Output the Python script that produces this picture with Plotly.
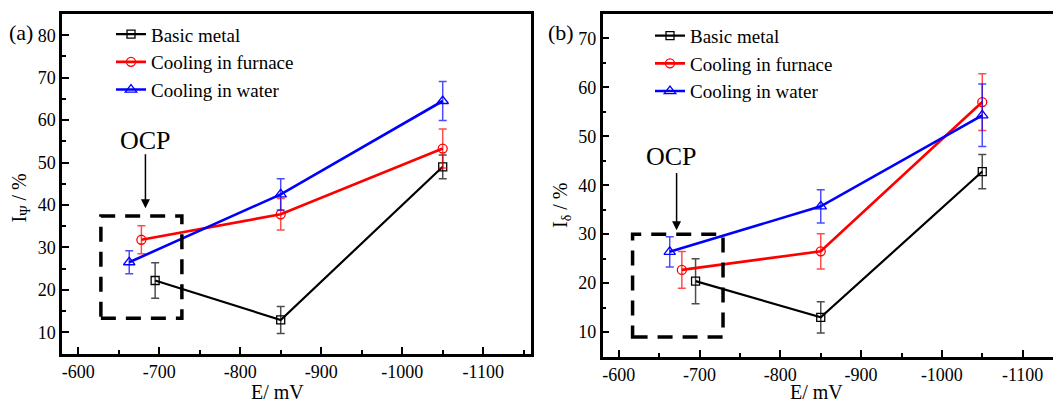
import plotly.graph_objects as go

# ---------------- data ----------------
series_names = ["Basic metal", "Cooling in furnace", "Cooling in water"]
series_colors = ["#000000", "#ff0000", "#0000ff"]
err_colors = ["rgba(0,0,0,0.7)", "rgba(255,0,0,0.7)", "rgba(0,0,255,0.7)"]
series_symbols = ["square-open", "circle-open", "triangle-up-open"]
series_sizes = [8, 9, 10]

E_basic = [-695, -850, -1050]
E_furnace = [-678, -850, -1050]
E_water = [-663, -850, -1050]

# panel (a): I_psi
Ipsi_basic = [22.2, 12.9, 49.0]
Ipsi_basic_err = [4.2, 3.2, 2.8]
Ipsi_furnace = [31.8, 37.8, 53.3]
Ipsi_furnace_err = [3.3, 3.7, 4.6]
Ipsi_water = [26.5, 42.5, 64.5]
Ipsi_water_err = [2.7, 3.7, 4.6]

# panel (b): I_delta
Idelta_basic = [20.4, 13.0, 42.8]
Idelta_basic_err = [4.6, 3.2, 3.5]
Idelta_furnace = [22.7, 26.5, 57.0]
Idelta_furnace_err = [3.75, 3.6, 5.8]
Idelta_water = [26.4, 35.7, 54.3]
Idelta_water_err = [3.1, 3.4, 6.4]

x_ticks = [-600, -700, -800, -900, -1000, -1100]
x_ticklabels = ["-600", "-700", "-800", "-900", "-1000", "-1100"]
y_ticks_a = [10, 20, 30, 40, 50, 60, 70, 80]
y_ticks_b = [10, 20, 30, 40, 50, 60, 70]

# OCP boxes (data coords)
ocp_box_a = dict(x0=-628, x1=-728, y0=13.3, y1=37.4)
ocp_box_b = dict(x0=-617, x1=-729, y0=9.0, y1=30.0)

FONT = "Liberation Serif"
OFF = 8  # page body margin
W, H = 1061 - OFF, 401 - OFF


def px(x):
    return (x - OFF) / W


def py(y):
    return 1 - (y - OFF) / H


fig = go.Figure()

panel_a = [(E_basic, Ipsi_basic, Ipsi_basic_err),
           (E_furnace, Ipsi_furnace, Ipsi_furnace_err),
           (E_water, Ipsi_water, Ipsi_water_err)]
panel_b = [(E_basic, Idelta_basic, Idelta_basic_err),
           (E_furnace, Idelta_furnace, Idelta_furnace_err),
           (E_water, Idelta_water, Idelta_water_err)]

lw = [2.2, 2.6, 2.6]
for panel, xa, ya, lg in [(panel_a, "x", "y", "legend"), (panel_b, "x2", "y2", "legend2")]:
    for i, (xs, ys, es) in enumerate(panel):
        fig.add_trace(go.Scatter(
            x=xs, y=ys, mode="lines+markers", name=series_names[i],
            line=dict(color=series_colors[i], width=lw[i]),
            marker=dict(symbol=series_symbols[i], size=series_sizes[i],
                        color=series_colors[i],
                        line=dict(width=1.3, color=series_colors[i])),
            error_y=dict(type="data", array=es, visible=True, color=err_colors[i],
                         thickness=1.5, width=4),
            xaxis=xa, yaxis=ya, legend=lg))

axis_common = dict(
    showline=True, linecolor="black", linewidth=2.5, mirror=True,
    ticks="inside", ticklen=7, tickwidth=2, tickcolor="black",
    showgrid=False, zeroline=False,
    tickfont=dict(family=FONT, size=18, color="black"),
)
minor_x = dict(ticks="inside", ticklen=4, tickwidth=2, dtick=50, tickcolor="black")
minor_y = dict(ticks="inside", ticklen=4, tickwidth=2, dtick=5, tickcolor="black")
legend_font = dict(family=FONT, size=19, color="black")

fig.update_layout(
    width=W, height=H,
    margin=dict(l=0, r=0, t=0, b=0),
    paper_bgcolor="white", plot_bgcolor="white",
    font=dict(family=FONT, color="black"),
    xaxis=dict(axis_common, domain=[px(62), px(531)], range=[-580, -1159],
               tickvals=x_ticks, ticktext=x_ticklabels, minor=minor_x, anchor="y"),
    yaxis=dict(axis_common, domain=[py(353.5), py(14)], range=[5, 85],
               tickvals=y_ticks_a, minor=minor_y, anchor="x"),
    xaxis2=dict(axis_common, domain=[px(602.7), 1.0], range=[-580, -1147.5],
                tickvals=x_ticks, ticktext=x_ticklabels, minor=minor_x, anchor="y2"),
    yaxis2=dict(axis_common, mirror=False, domain=[py(356.5), py(14)],
                range=[5, 75], tickvals=y_ticks_b, minor=minor_y, anchor="x2"),
    legend=dict(x=px(111), y=py(15.3), xanchor="left", yanchor="top",
                bgcolor="rgba(0,0,0,0)", font=legend_font, tracegroupgap=0),
    legend2=dict(x=px(650), y=py(16.8), xanchor="left", yanchor="top",
                 bgcolor="rgba(0,0,0,0)", font=legend_font, tracegroupgap=0),
    showlegend=True,
)

# dashed OCP boxes
for box, xr, yr in [(ocp_box_a, "x", "y"), (ocp_box_b, "x2", "y2")]:
    fig.add_shape(type="rect", xref=xr, yref=yr, x0=box["x0"], x1=box["x1"],
                  y0=box["y0"], y1=box["y1"],
                  line=dict(color="black", width=3.5, dash="15px,10px"))

# OCP labels + arrows
fig.add_annotation(x=-683, y=55.3, xref="x", yref="y", text="OCP", showarrow=False,
                   xanchor="center", yanchor="middle",
                   font=dict(family=FONT, size=26, color="black"))
fig.add_annotation(x=-683, y=39.2, ax=-683, ay=52.3, xref="x", yref="y", axref="x",
                   ayref="y", text="", showarrow=True, arrowhead=2, arrowsize=1.2,
                   arrowwidth=1.5, arrowcolor="black")
fig.add_annotation(x=-665, y=45.8, xref="x2", yref="y2", text="OCP", showarrow=False,
                   xanchor="center", yanchor="middle",
                   font=dict(family=FONT, size=26, color="black"))
fig.add_annotation(x=-671.5, y=30.8, ax=-671.5, ay=42.8, xref="x2", yref="y2",
                   axref="x2", ayref="y2", text="", showarrow=True, arrowhead=2,
                   arrowsize=1.2, arrowwidth=1.5, arrowcolor="black")

# panel labels
for txt, x, y in [("(a)", 21, 33), ("(b)", 561, 33)]:
    fig.add_annotation(x=px(x), y=py(y), xref="paper", yref="paper", text=txt,
                       xanchor="center", yanchor="middle", showarrow=False,
                       font=dict(family=FONT, size=22, color="black"))

# axis titles
for x in [277, 816]:
    fig.add_annotation(x=px(x), y=py(391.5), xref="paper", yref="paper", text="E/ mV",
                       xanchor="center", yanchor="middle", showarrow=False,
                       font=dict(family=FONT, size=20, color="black"))
fig.add_annotation(x=px(19.5), y=py(198), xref="paper", yref="paper",
                   text="I<sub>Ψ</sub> / %", textangle=-90, showarrow=False,
                   xanchor="center", yanchor="middle",
                   font=dict(family=FONT, size=20, color="black"))
fig.add_annotation(x=px(561), y=py(205), xref="paper", yref="paper",
                   text="I<sub>δ</sub> / %", textangle=-90, showarrow=False,
                   xanchor="center", yanchor="middle",
                   font=dict(family=FONT, size=20, color="black"))

fig.write_html("out.html")
